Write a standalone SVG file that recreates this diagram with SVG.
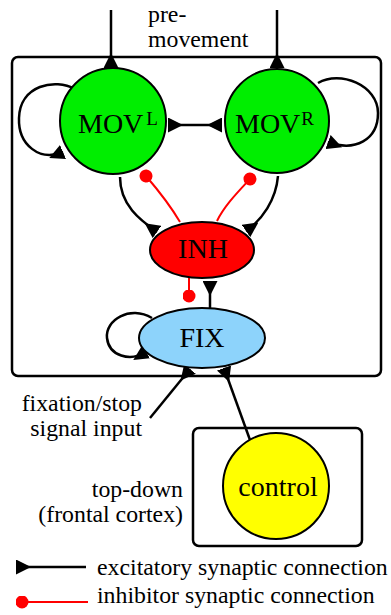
<svg xmlns="http://www.w3.org/2000/svg" width="391" height="615" viewBox="0 0 391 615">
<defs>
<style>
text{font-family:"Liberation Serif","Times New Roman",serif;fill:#000}
.lbl{font-size:23.8px}
.nt{font-size:28px}
.sup{font-size:19px}
.box{fill:none;stroke:#000;stroke-width:2.5}
.node{stroke:#000;stroke-width:2}
.exc{fill:none;stroke:#000;stroke-width:2.5;marker-end:url(#tri)}
.inh{fill:none;stroke:#f00;stroke-width:2;marker-end:url(#dot)}
</style>
<marker id="tri" viewBox="0 0 10 10" refX="10" refY="5" markerWidth="15" markerHeight="15" markerUnits="userSpaceOnUse" orient="auto">
<path d="M0,5 L10,0 L10,10 Z" fill="#000"/>
</marker>
<marker id="dot" viewBox="0 0 10 10" refX="5" refY="5" markerWidth="13" markerHeight="13" markerUnits="userSpaceOnUse" orient="auto">
<circle cx="5" cy="5" r="5" fill="#f00"/>
</marker>
</defs>
<rect id="brainstem" class="box" x="12" y="57" width="369" height="319" rx="6"/>
<rect id="topdown" class="box" x="193" y="428" width="169" height="118" rx="6"/>
<g id="connectors">
<path class="exc" d="M111,10 L111,68"/>
<path class="exc" d="M277,10 L277,68"/>
<path class="exc" d="M195,125 L168,125"/>
<path class="exc" d="M195,125 L222,125"/>
<path class="exc" d="M75,89 C55,78 20,85 19,118 C18,145 40,162 63,152"/>
<path class="exc" d="M318,83 C340,70 378,85 378,113 C378,140 355,152 328,142"/>
<path class="exc" d="M120,177 C120,205 140,220 157,232"/>
<path class="exc" d="M278,176 C276,200 262,220 246,231"/>
<path class="inh" d="M180,222 C170,205 158,190 146,176"/>
<path class="inh" d="M217,221 C225,205 238,192 250,179"/>
<path class="inh" d="M189,278 L189,296"/>
<path class="exc" d="M210,308 L210,281"/>
<path class="exc" d="M152,318 C130,305 105,320 107,338 C109,356 130,362 146,352"/>
<path class="exc" d="M150,418 L190,369"/>
<path class="exc" d="M250,440 L224,368"/>
</g>
<g id="MOVL">
<circle class="node" cx="113" cy="121" r="53" fill="#00ee00"/>
<text class="nt" x="78" y="133">MOV<tspan class="sup" dx="3" dy="-8">L</tspan></text>
</g>
<g id="MOVR">
<circle class="node" cx="277" cy="121" r="52" fill="#00ee00"/>
<text class="nt" x="235" y="133">MOV<tspan class="sup" dx="1" dy="-8">R</tspan></text>
</g>
<g id="INH">
<ellipse class="node" cx="202" cy="250" rx="52" ry="28" fill="#f00"/>
<text class="nt" x="203" y="258" text-anchor="middle">INH</text>
</g>
<g id="FIX">
<ellipse class="node" cx="202" cy="338" rx="63" ry="30" fill="#8dd3fb"/>
<text class="nt" x="202" y="347" text-anchor="middle">FIX</text>
</g>
<g id="control">
<circle class="node" cx="276" cy="486" r="53" fill="#ffff00"/>
<text class="nt" x="278" y="496" text-anchor="middle">control</text>
</g>
<g id="labels">
<text class="lbl" x="148" y="22">pre-</text>
<text class="lbl" x="148" y="47">movement</text>
<text class="lbl" x="142" y="411" text-anchor="end">fixation/stop</text>
<text class="lbl" x="142" y="436" text-anchor="end">signal input</text>
<text class="lbl" x="183" y="497" text-anchor="end">top-down</text>
<text class="lbl" x="183" y="522" text-anchor="end">(frontal cortex)</text>
</g>
<g id="legend">
<path class="exc" d="M86,567 L16,567"/>
<path class="inh" d="M88,602 L22,602"/>
<text class="lbl" x="97" y="575">excitatory synaptic connection</text>
<text class="lbl" x="97" y="603">inhibitor synaptic connection</text>
</g>
</svg>
